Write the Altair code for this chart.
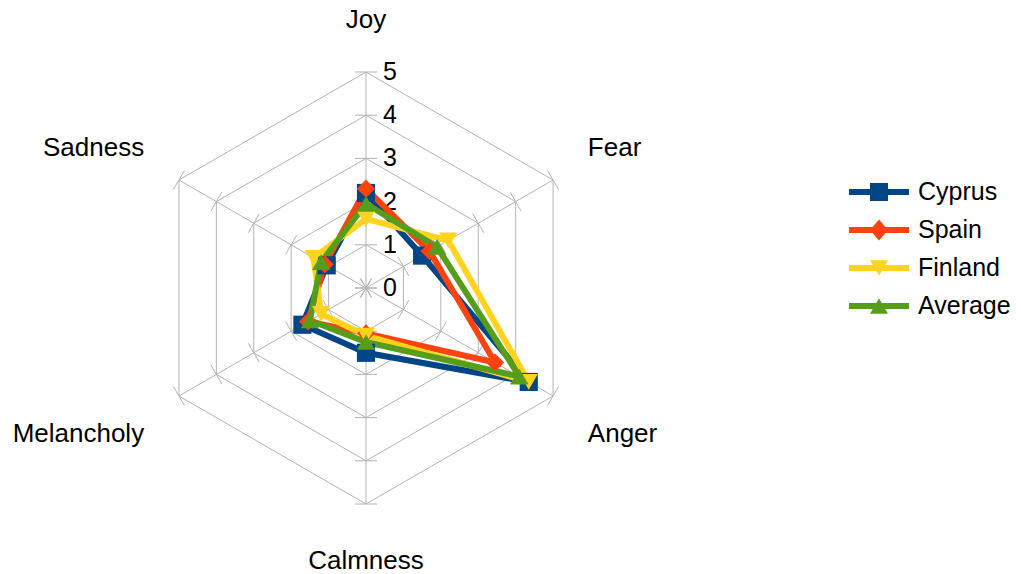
import math
import altair as alt
import pandas as pd

categories = ["Joy", "Fear", "Anger", "Calmness", "Melancholy", "Sadness"]
series = ["Cyprus", "Spain", "Finland", "Average"]
cyprus = [2.2, 1.5, 4.35, 1.5, 1.7, 1.05]
spain = [2.3, 1.7, 3.45, 1.05, 1.55, 1.1]
finland = [1.6, 2.2, 4.35, 1.1, 1.2, 1.4]
average = [1.95, 1.9, 4.1, 1.25, 1.5, 1.2]
levels = [0, 1, 2, 3, 4, 5]
level_labels = ["0", "1", "2", "3", "4", "5"]
colors = ["#004586", "#ff420e", "#ffd320", "#579d1c"]
chart_shapes = ["square", "diamond", "triangle-down", "triangle-up"]

FONT = "Liberation Sans"
N = len(categories)
RMAX = max(levels)


def ang(i):
    return 2 * math.pi * i / N


# series table (closed polygons)
rows = []
for s, vals in zip(series, [cyprus, spain, finland, average]):
    for i in range(N + 1):
        k = i % N
        a = ang(k)
        rows.append({"series": s, "cat": categories[k], "v": vals[k],
                     "x": vals[k] * math.sin(a), "y": vals[k] * math.cos(a),
                     "order": i, "closing": i == N})
df = pd.DataFrame(rows)

# grid rings
ring_rows = []
for L in levels[1:]:
    for i in range(N + 1):
        a = ang(i % N)
        ring_rows.append({"level": L, "order": i, "x": L * math.sin(a), "y": L * math.cos(a)})
rings = pd.DataFrame(ring_rows)

# spokes
spokes = pd.DataFrame([{"x": 0.0, "y": 0.0, "x2": RMAX * math.sin(ang(i)), "y2": RMAX * math.cos(ang(i))}
                       for i in range(N)])

# small ticks across each spoke
h = 0.255
tick_rows = []
for L in levels:
    for i in range(N):
        a = ang(i)
        cx, cy = L * math.sin(a), L * math.cos(a)
        px, py = math.cos(a) * h, -math.sin(a) * h
        tick_rows.append({"x": cx - px, "y": cy - py, "x2": cx + px, "y2": cy + py})
ticks = pd.DataFrame(tick_rows)

# category labels
lab_rows = []
for i, c in enumerate(categories):
    a = ang(i)
    s, co = math.sin(a), math.cos(a)
    if abs(co) < 1e-9:
        off = 0.0
    elif co > 0:
        off = 0.3
    else:
        off = -0.43
    al = "center" if abs(s) < 0.1 else ("left" if s > 0 else "right")
    lab_rows.append({"label": c, "x": 5.93 * s, "y": 5.9 * co + off, "al": al})
labels = pd.DataFrame(lab_rows)

tick_labels = pd.DataFrame({"x": [0.0] * len(levels), "y": levels, "t": level_labels})

xs = alt.Scale(domain=[-RMAX, RMAX], nice=False, zero=False)
ys = alt.Scale(domain=[-RMAX, RMAX], nice=False, zero=False)
X = alt.X("x:Q", scale=xs, axis=None)
Y = alt.Y("y:Q", scale=ys, axis=None)

grid_col = "#b3b3b3"
ring_layer = alt.Chart(rings).mark_line(color=grid_col, strokeWidth=1).encode(
    x=X, y=Y, detail="level:N", order="order:Q")
spoke_layer = alt.Chart(spokes).mark_rule(color=grid_col, strokeWidth=1).encode(
    x=X, y=Y, x2="x2:Q", y2="y2:Q")
tick_layer = alt.Chart(ticks).mark_rule(color=grid_col, strokeWidth=1).encode(
    x=X, y=Y, x2="x2:Q", y2="y2:Q")

tick_text = alt.Chart(tick_labels).mark_text(
    align="left", baseline="middle", dx=17, fontSize=25, font=FONT, color="black"
).encode(x=X, y=Y, text="t:N")

label_layers = []
for al in ["left", "center", "right"]:
    label_layers.append(
        alt.Chart(labels).transform_filter(alt.datum.al == al).mark_text(
            align=al, baseline="middle", fontSize=26, font=FONT, color="black"
        ).encode(x=X, y=Y, text="label:N")
    )

line_layer = alt.Chart(df).mark_line(strokeWidth=6).encode(
    x=X, y=Y, order="order:Q",
    color=alt.Color("series:N", scale=alt.Scale(domain=series, range=colors), legend=None))

point_layer = alt.Chart(df).transform_filter(alt.datum.closing == False).mark_point(
    filled=True, opacity=1, size=330
).encode(
    x=X, y=Y,
    color=alt.Color("series:N", scale=alt.Scale(domain=series, range=colors), legend=None),
    shape=alt.Shape("series:N", scale=alt.Scale(domain=series, range=chart_shapes), legend=None))

bar = "M-1,-0.1L1,-0.1L1,0.1L-1,0.1Z"
legend_paths = [
    bar + "M-0.3,-0.3L0.3,-0.3L0.3,0.3L-0.3,0.3Z",
    bar + "M0,-0.35L0.3,0L0,0.35L-0.3,0Z",
    bar + "M-0.3,-0.26L0.3,-0.26L0,0.26Z",
    bar + "M0,-0.26L0.3,0.26L-0.3,0.26Z",
]
leg = alt.Legend(orient="none", legendX=699, legendY=101, title=None,
                 labelFontSize=25, labelFont=FONT, labelColor="black",
                 symbolSize=3600, symbolStrokeWidth=0, symbolOpacity=1, clipHeight=38,
                 rowPadding=0, labelOffset=9, padding=0, symbolOffset=0)
legend_layer = alt.Chart(df).transform_filter("false").mark_point(filled=True, opacity=1).encode(
    x=X, y=Y,
    color=alt.Color("series:N", scale=alt.Scale(domain=series, range=colors), legend=leg),
    shape=alt.Shape("series:N", scale=alt.Scale(domain=series, range=legend_paths), legend=leg))

chart = alt.layer(
    ring_layer, spoke_layer, tick_layer, tick_text, *label_layers,
    line_layer, point_layer, legend_layer
).resolve_scale(color="independent", shape="independent").properties(
    width=432, height=432, autosize="none",
    padding={"left": 142, "top": 64, "right": 431, "bottom": 74},
).configure_view(stroke=None)

chart.save("out.html", embed_options={"renderer": "svg", "actions": False})
